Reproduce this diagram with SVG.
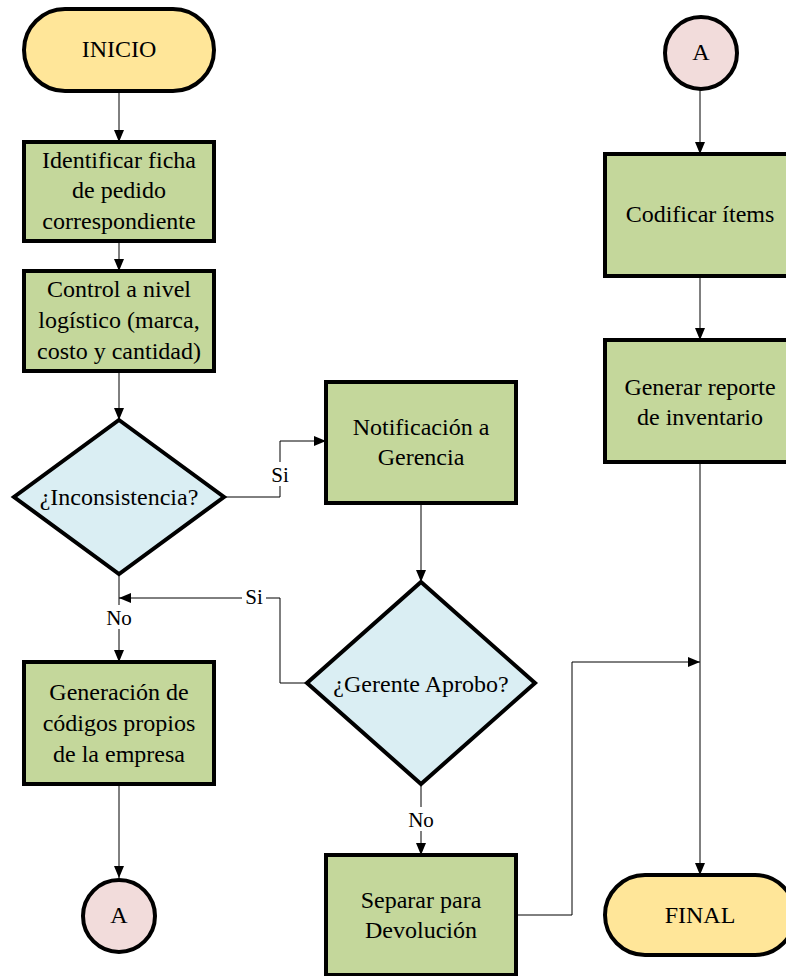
<svg xmlns="http://www.w3.org/2000/svg" width="786" height="976" viewBox="0 0 786 976">
<defs>
<marker id="arr" viewBox="0 0 12 10" refX="12" refY="5" markerWidth="12" markerHeight="10" markerUnits="userSpaceOnUse" orient="auto">
<path d="M0,0 L12,5 L0,10 Z" fill="#000"/>
</marker>
<style>
.t{font-family:'Liberation Serif','Times New Roman',serif;font-size:24px;fill:#000;text-anchor:middle}
.l{font-family:'Liberation Serif','Times New Roman',serif;font-size:21px;fill:#000;text-anchor:middle}
.term{fill:#FFE699;stroke:#000;stroke-width:4}
.proc{fill:#C4D79B;stroke:#000;stroke-width:4}
.dec{fill:#DAEEF3;stroke:#000;stroke-width:4}
.con{fill:#F2DCDB;stroke:#000;stroke-width:4}
.c{fill:none;stroke:#000;stroke-width:1}
</style>
</defs>
<rect width="786" height="976" fill="#fff"/>
<g id="connectors">
<path class="c" d="M119,91 V142" marker-end="url(#arr)"/>
<path class="c" d="M119,241 V271" marker-end="url(#arr)"/>
<path class="c" d="M119,371 V420" marker-end="url(#arr)"/>
<path class="c" d="M224,497 H280 V441 H326" marker-end="url(#arr)"/>
<path class="c" d="M119,574 V662" marker-end="url(#arr)"/>
<path class="c" d="M421,503 V582" marker-end="url(#arr)"/>
<path class="c" d="M307,683 H280 V598 H119" marker-end="url(#arr)"/>
<path class="c" d="M119,784 V878" marker-end="url(#arr)"/>
<path class="c" d="M421,784 V855" marker-end="url(#arr)"/>
<path class="c" d="M516,915 H572 V662 H700" marker-end="url(#arr)"/>
<path class="c" d="M700,90 V154" marker-end="url(#arr)"/>
<path class="c" d="M700,276 V340" marker-end="url(#arr)"/>
<path class="c" d="M700,462 V875" marker-end="url(#arr)"/>
<rect x="268" y="462" width="24" height="24" fill="#fff"/>
<text class="l" x="280" y="482">Si</text>
<rect x="242" y="586" width="24" height="24" fill="#fff"/>
<text class="l" x="254" y="604">Si</text>
<rect x="104" y="605" width="30" height="24" fill="#fff"/>
<text class="l" x="119" y="625">No</text>
<rect x="406" y="807" width="30" height="24" fill="#fff"/>
<text class="l" x="421" y="827">No</text>
</g>
<g id="inicio">
<rect class="term" x="24" y="9" width="190" height="82" rx="41" ry="41"/>
<text class="t" x="119" y="57">INICIO</text>
</g>
<g id="identificar">
<rect class="proc" x="24" y="142" width="190" height="99"/>
<text class="t" x="119" y="168">Identificar ficha</text>
<text class="t" x="119" y="198">de pedido</text>
<text class="t" x="119" y="229">correspondiente</text>
</g>
<g id="control">
<rect class="proc" x="24" y="271" width="190" height="100"/>
<text class="t" x="119" y="297">Control a nivel</text>
<text class="t" x="119" y="328">logístico (marca,</text>
<text class="t" x="119" y="359">costo y cantidad)</text>
</g>
<g id="inconsistencia">
<polygon class="dec" points="119,420 224,497 119,574 14,497"/>
<text class="t" x="119" y="505">¿Inconsistencia?</text>
</g>
<g id="notificacion">
<rect class="proc" x="326" y="382" width="190" height="121"/>
<text class="t" x="421" y="435">Notificación a</text>
<text class="t" x="421" y="465">Gerencia</text>
</g>
<g id="gerente">
<polygon class="dec" points="421,582 535,683 421,784 307,683"/>
<text class="t" x="421" y="692">¿Gerente Aprobo?</text>
</g>
<g id="generacion">
<rect class="proc" x="24" y="662" width="190" height="122"/>
<text class="t" x="119" y="700">Generación de</text>
<text class="t" x="119" y="731">códigos propios</text>
<text class="t" x="119" y="762">de la empresa</text>
</g>
<g id="conectorA1">
<circle class="con" cx="119" cy="916" r="36"/>
<text class="t" x="119" y="923">A</text>
</g>
<g id="separar">
<rect class="proc" x="326" y="855" width="190" height="120"/>
<text class="t" x="421" y="908">Separar para</text>
<text class="t" x="421" y="938">Devolución</text>
</g>
<g id="conectorA2">
<circle class="con" cx="701" cy="53" r="36"/>
<text class="t" x="701" y="60">A</text>
</g>
<g id="codificar">
<rect class="proc" x="605" y="154" width="190" height="122"/>
<text class="t" x="700" y="222">Codificar ítems</text>
</g>
<g id="reporte">
<rect class="proc" x="605" y="340" width="190" height="122"/>
<text class="t" x="700" y="395">Generar reporte</text>
<text class="t" x="700" y="425">de inventario</text>
</g>
<g id="final">
<rect class="term" x="605" y="875" width="190" height="80" rx="40" ry="40"/>
<text class="t" x="700" y="923">FINAL</text>
</g>
</svg>
